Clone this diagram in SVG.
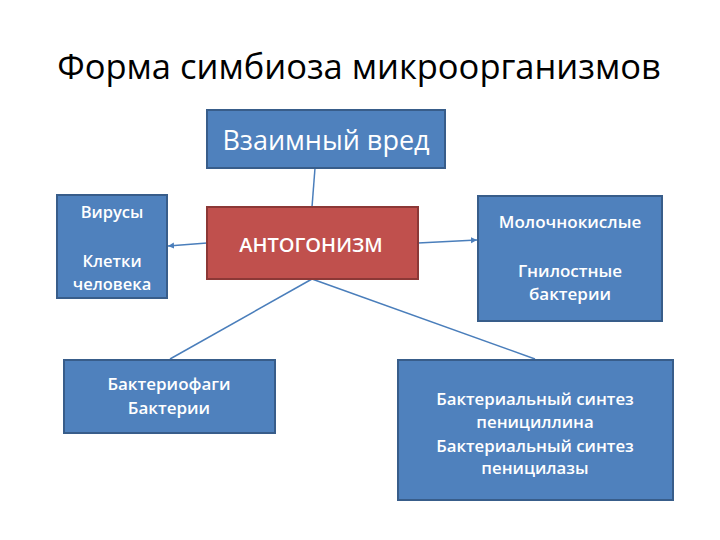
<svg xmlns="http://www.w3.org/2000/svg" width="720" height="540" viewBox="0 0 720 540">
<defs>
<style>
.blue{fill:#4F81BD;stroke:#385D8A;stroke-width:2}
.red{fill:#C0504D;stroke:#8C3836;stroke-width:2}
.t{fill:#fff;font-family:"Open Sans","Liberation Sans",sans-serif;text-anchor:middle}
.b{font-weight:600}
.conn{stroke:#4A7EBB;stroke-width:1.5;fill:none}
</style>
<marker id="ah" markerWidth="8" markerHeight="8" refX="6" refY="4" orient="auto" markerUnits="userSpaceOnUse">
<path d="M0,1 L6,4 L0,7 Z" fill="#4A7EBB"/>
</marker>
</defs>
<rect width="720" height="540" fill="#fff"/>
<text x="359" y="79" font-family="Open Sans,Liberation Sans,sans-serif" font-size="34.5" fill="#000" text-anchor="middle">Форма симбиоза микроорганизмов</text>
<g id="connectors">
<line class="conn" x1="315" y1="168" x2="312" y2="207"/>
<line class="conn" x1="207" y1="243" x2="168" y2="246" marker-end="url(#ah)"/>
<line class="conn" x1="418" y1="243" x2="477" y2="240" marker-end="url(#ah)"/>
<line class="conn" x1="312" y1="279" x2="170" y2="359"/>
<line class="conn" x1="312" y1="279" x2="535" y2="359"/>
</g>
<g id="vred">
<rect class="blue" x="207" y="110" width="238" height="58"/>
<text class="t" x="326" y="150" font-size="27">Взаимный вред</text>
</g>
<g id="antogonizm">
<rect class="red" x="207" y="207" width="211" height="72"/>
<text class="t b" x="311" y="252" font-size="20">АНТОГОНИЗМ</text>
</g>
<g id="left">
<rect class="blue" x="57" y="195" width="110" height="103"/>
<text class="t b" x="112" y="218" font-size="16.5">Вирусы</text>
<text class="t b" x="112" y="267" font-size="16.5">Клетки</text>
<text class="t b" x="112" y="290" font-size="16.5">человека</text>
</g>
<g id="right">
<rect class="blue" x="478" y="196" width="184" height="125"/>
<text class="t b" x="570" y="228" font-size="17">Молочнокислые</text>
<text class="t b" x="570" y="277" font-size="17">Гнилостные</text>
<text class="t b" x="570" y="300" font-size="17">бактерии</text>
</g>
<g id="phage">
<rect class="blue" x="64" y="360" width="211" height="73"/>
<text class="t b" x="169" y="390" font-size="17">Бактериофаги</text>
<text class="t b" x="169" y="414" font-size="17">Бактерии</text>
</g>
<g id="synth">
<rect class="blue" x="398" y="360" width="275" height="140"/>
<text class="t b" x="535" y="405" font-size="16.8">Бактериальный синтез</text>
<text class="t b" x="535" y="428" font-size="16.8">пенициллина</text>
<text class="t b" x="535" y="452" font-size="16.8">Бактериальный синтез</text>
<text class="t b" x="535" y="474" font-size="16.8">пеницилазы</text>
</g>
</svg>
